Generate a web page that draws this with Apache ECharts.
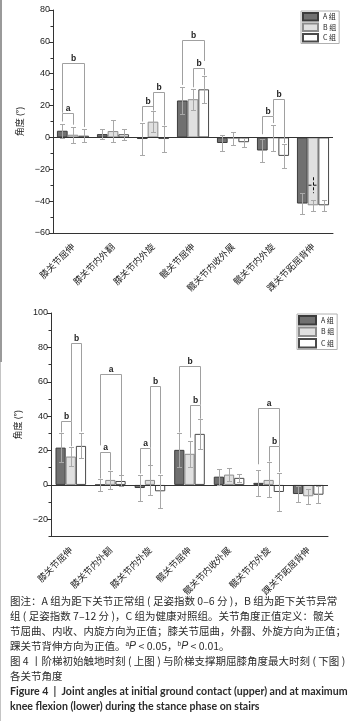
<!DOCTYPE html>
<html>
<head>
<meta charset="utf-8">
<title>图4 各关节角度</title>
<script src="https://cdn.jsdelivr.net/npm/echarts@6/dist/echarts.min.js"></script>
<style>
  html, body { margin: 0; padding: 0; background: #fff; }
  #chart { width: 357px; height: 721px; }
</style>
</head>
<body>
<div id="chart"></div>
<script>
  // 关节名称
  var categories = ['膝关节屈伸', '膝关节内外翻', '膝关节内外旋', '髋关节屈伸', '髋关节内收外展', '髋关节内外旋', '踝关节跖屈背伸'];
  var groupNames = ['A 组', 'B 组', 'C 组'];

  // 上图：阶梯初始触地时刻，均值与标准差
  var contactA = [4.2, 2.1, -1.0, 23.2, -3.5, -8.2, -41.5];
  var contactB = [1.7, 4.0, 9.9, 24.0, -0.8, -0.4, -42.6];
  var contactC = [1.1, 2.0, -1.0, 30.2, -3.0, -11.6, -42.6];
  var contactSdA = [4.3, 3.4, 10.0, 8.2, 5.2, 7.4, 6.8];
  var contactSdB = [5.0, 7.0, 6.4, 6.5, 3.9, 8.4, 3.4];
  var contactSdC = [4.1, 3.6, 8.0, 8.5, 2.7, 7.5, 3.4];
  var contactTicks = [-60, -40, -20, 0, 20, 40, 60, 80];

  // 下图：阶梯支撑期屈膝角度最大时刻
  var flexA = [21.7, 0.0, -1.8, 20.4, 4.8, 1.2, -5.3];
  var flexB = [16.5, 2.9, 2.9, 18.1, 6.0, 2.9, -6.6];
  var flexC = [22.7, 2.3, -3.7, 29.7, 4.1, -4.1, -5.7];
  var flexSdA = [8.6, 3.3, 7.3, 9.7, 4.6, 7.6, 4.8];
  var flexSdB = [5.7, 5.0, 8.5, 7.5, 3.9, 10.2, 4.4];
  var flexSdC = [7.3, 3.2, 9.7, 8.7, 2.5, 11.3, 5.0];
  var flexTicks = [-20, 0, 20, 40, 60, 80, 100];
  var flexMin = -30;

  // 显著性标注 [关节, 组1, 组2, 横线高度, 组1竖线下端, 组2竖线下端, 标记]
  var contactMarks = [
    [0, 0, 1, 15.5, 10, 8, 'a'],
    [0, 0, 2, 47, 15.5, 6.5, 'b'],
    [2, 0, 1, 19.6, 10, 17, 'b'],
    [2, 1, 2, 28.7, 17, 7.5, 'b'],
    [3, 0, 2, 61.4, 33, 48, 'b'],
    [3, 1, 2, 43.9, 31.5, 39, 'b'],
    [5, 0, 1, 13.7, 2, 9, 'b'],
    [5, 1, 2, 24.3, 13.5, -3.5, 'b']
  ];
  var flexMarks = [
    [0, 0, 1, 37.1, 30.5, 22.5, 'b'],
    [0, 1, 2, 82.6, 37, 31, 'b'],
    [1, 0, 1, 19.4, 3.7, 8.5, 'a'],
    [1, 0, 2, 64.7, 23, 5.5, 'a'],
    [2, 0, 1, 21.6, 6.6, 11.5, 'a'],
    [2, 1, 2, 57.5, 21.6, 6.5, 'b'],
    [3, 0, 2, 69.2, 30.5, 46.6, 'b'],
    [3, 1, 2, 46.6, 27.5, 38.5, 'b'],
    [5, 0, 2, 44.9, 12, 22.5, 'a'],
    [5, 1, 2, 22.5, 13.6, 7.5, 'b']
  ];
  // 上图踝关节 B 组柱内的虚线十字 [关节, 组, 上端, 下端, 横线]
  var contactDash = [[6, 1, -25, -35, -30]];

  var fills = ['#707070', '#e0e0e0', '#ffffff'];
  var borders = ['#3c3c3c', '#8c8c8c', '#4a4a4a'];
  var barW = [10.7, 10.2];

  var chart = echarts.init(document.getElementById('chart'), null, { renderer: 'canvas' });

  function minus(v) {
    return String(v).replace('-', '−');
  }

  function yMain(grid, min, max, ticks) {
    return {
      type: 'value', gridIndex: grid, min: min, max: max, interval: 10, position: 'left',
      name: '角度 (°)', nameLocation: 'middle', nameGap: 25, nameRotate: 90,
      nameTextStyle: { fontSize: 9, color: '#222', fontFamily: 'Noto Sans CJK SC' },
      axisLine: { show: true, lineStyle: { color: '#333', width: 1 } },
      axisTick: { show: true, length: 4, customValues: ticks, lineStyle: { color: '#333' } },
      axisLabel: { customValues: ticks, fontSize: 9, color: '#222', margin: 3, fontFamily: 'Liberation Sans', formatter: minus },
      splitLine: { show: false }
    };
  }

  // 次刻度，单独一根轴画在左侧
  function yMinor(grid, min, max) {
    return {
      type: 'value', gridIndex: grid, min: min, max: max, interval: 10, position: 'left', offset: 0,
      axisLine: { show: false },
      axisTick: { show: true, length: 2.5, lineStyle: { color: '#333' } },
      axisLabel: { show: false },
      splitLine: { show: false }
    };
  }

  function xAxis(grid) {
    return {
      type: 'category', gridIndex: grid, data: categories,
      axisLine: { onZero: false, lineStyle: { color: '#333', width: 1 } },
      axisTick: { alignWithLabel: true, inside: true, length: 4, lineStyle: { color: '#333' } },
      axisLabel: { interval: 0, rotate: 45, fontSize: 9, color: '#222', margin: 12, fontFamily: 'Noto Sans CJK SC' }
    };
  }

  function bars(xi, yi, values, bw) {
    return values.map(function (data, g) {
      var s = {
        name: groupNames[g], type: 'bar', xAxisIndex: xi, yAxisIndex: yi,
        data: data, barWidth: bw, barGap: '0%', z: 2,
        itemStyle: { color: fills[g], borderColor: borders[g], borderWidth: 1 }
      };
      if (g === 0) {
        s.markLine = {
          silent: true, symbol: 'none', animation: false,
          label: { show: false },
          lineStyle: { color: '#333', width: 1, type: 'solid' },
          data: [{ yAxis: 0 }]
        };
      }
      return s;
    });
  }

  function errors(xi, yi, means, sds, bw) {
    var data = [];
    means.forEach(function (m, g) {
      m.forEach(function (v, i) { data.push([i, g, v, sds[g][i]]); });
    });
    return {
      type: 'custom', xAxisIndex: xi, yAxisIndex: yi, z: 5, silent: true,
      data: data, encode: { x: 0, y: 2 },
      renderItem: function (params, api) {
        var c = api.value(0), m = api.value(2), sd = api.value(3);
        var x = Math.round(api.coord([c, m])[0] + (api.value(1) - 1) * bw) + 0.5;
        var top = Math.round(api.coord([c, m + sd])[1]) + 0.5;
        var bot = Math.round(api.coord([c, m - sd])[1]) + 0.5;
        var st = { stroke: '#a8a8a8', lineWidth: 1 };
        return {
          type: 'group', children: [
            { type: 'line', shape: { x1: x, y1: top, x2: x, y2: bot }, style: st },
            { type: 'line', shape: { x1: x - 2.5, y1: top, x2: x + 2.5, y2: top }, style: st },
            { type: 'line', shape: { x1: x - 2.5, y1: bot, x2: x + 2.5, y2: bot }, style: st }
          ]
        };
      }
    };
  }

  function brackets(xi, yi, marks, bw) {
    return {
      type: 'custom', xAxisIndex: xi, yAxisIndex: yi, z: 6, silent: true,
      data: marks.map(function (d) { return d.slice(0, 6); }),
      encode: { x: 0, y: 3 },
      renderItem: function (params, api) {
        var c = api.value(0);
        var cx = api.coord([c, 0])[0];
        var x1 = Math.round(cx + (api.value(1) - 1) * bw) + 0.5;
        var x2 = Math.round(cx + (api.value(2) - 1) * bw) + 0.5;
        var yl = Math.round(api.coord([c, api.value(3)])[1]) + 0.5;
        var y1 = api.coord([c, api.value(4)])[1];
        var y2 = api.coord([c, api.value(5)])[1];
        return {
          type: 'group', children: [
            { type: 'polyline', shape: { points: [[x1, y1], [x1, yl], [x2, yl], [x2, y2]] },
              style: { stroke: '#a0a0a0', lineWidth: 1, fill: null } },
            { type: 'text', x: (x1 + x2) / 2, y: yl - 5,
              style: { text: marks[params.dataIndex][6], fontSize: 8.5, fontWeight: 'bold',
                fontFamily: 'Liberation Sans', fill: '#222', align: 'center', verticalAlign: 'middle' } }
          ]
        };
      }
    };
  }

  function dashes(xi, yi, items, bw) {
    return {
      type: 'custom', xAxisIndex: xi, yAxisIndex: yi, z: 6, silent: true,
      data: items, encode: { x: 0, y: 2 },
      renderItem: function (params, api) {
        var c = api.value(0);
        var x = Math.round(api.coord([c, 0])[0] + (api.value(1) - 1) * bw) + 0.5;
        var st = { stroke: '#111', lineWidth: 1, lineDash: [3, 2] };
        var yh = api.coord([c, api.value(4)])[1];
        return {
          type: 'group', children: [
            { type: 'line', shape: { x1: x, y1: api.coord([c, api.value(2)])[1], x2: x, y2: api.coord([c, api.value(3)])[1] }, style: st },
            { type: 'line', shape: { x1: x - 5, y1: yh, x2: x + 5, y2: yh }, style: st }
          ]
        };
      }
    };
  }

  function legend(left, top, w, h) {
    return {
      data: groupNames, orient: 'vertical', left: left, top: top,
      itemWidth: w, itemHeight: h, itemGap: 1, icon: 'rect',
      padding: [1, 3, 1, 1], borderColor: '#b0b0b0', borderWidth: 1,
      selectedMode: false,
      textStyle: { fontSize: 7, color: '#222', fontFamily: 'Noto Sans CJK SC' }
    };
  }

  var caption = [
    ['图注：A 组为距下关节正常组 ( 足姿指数 0–6 分 )，B 组为距下关节异常', 601.5],
    ['组 ( 足姿指数 7–12 分 )，C 组为健康对照组。关节角度正值定义：髋关', 616.5],
    ['节屈曲、内收、内旋方向为正值；膝关节屈曲，外翻、外旋方向为正值；', 631.5],
    ['踝关节背伸方向为正值。{sup|a}{it|P} < 0.05，{sup|b}{it|P} < 0.01。', 646.5],
    ['图 4 丨阶梯初始触地时刻 ( 上图 ) 与阶梯支撑期屈膝角度最大时刻 ( 下图 )', 661.5],
    ['各关节角度', 676.5]
  ];
  var captionEn = [
    ['Figure 4  |  Joint angles at initial ground contact (upper) and at maximum', 691.5],
    ['knee flexion (lower) during the stance phase on stairs', 706.5]
  ];

  var graphics = [
    { type: 'rect', shape: { x: 0, y: 0, width: 2, height: 362 }, style: { fill: '#9a9a9a' } },
    { type: 'rect', shape: { x: 0, y: 362, width: 1, height: 359 }, style: { fill: '#c4c4c4' } }
  ];
  caption.forEach(function (c) {
    graphics.push({
      type: 'text', x: 10, y: c[1],
      style: {
        text: c[0], fontSize: 10.5, fontFamily: 'Noto Sans CJK SC', fill: '#2b2b2b', verticalAlign: 'middle',
        rich: {
          sup: { fontSize: 6.5, padding: [0, 0, 5, 0], fill: '#2b2b2b' },
          it: { fontSize: 10.5, fontStyle: 'italic', fill: '#2b2b2b' }
        }
      }
    });
  });
  captionEn.forEach(function (c) {
    graphics.push({
      type: 'text', x: 10, y: c[1],
      style: { text: c[0], fontSize: 10.6, fontWeight: 'bold', fontFamily: 'Lato', fill: '#2b2b2b', verticalAlign: 'middle' }
    });
  });

  var option = {
    animation: false,
    backgroundColor: '#fff',
    grid: [
      { left: 53, top: 10, width: 280, height: 223 },
      { left: 51, top: 313, width: 277, height: 223.5 }
    ],
    xAxis: [xAxis(0), xAxis(1)],
    yAxis: [
      yMain(0, contactTicks[0], contactTicks[contactTicks.length - 1], contactTicks),
      yMinor(0, contactTicks[0], contactTicks[contactTicks.length - 1]),
      yMain(1, flexMin, flexTicks[flexTicks.length - 1], flexTicks),
      yMinor(1, flexMin, flexTicks[flexTicks.length - 1])
    ],
    legend: [legend(301, 11, 15, 7.5), legend(297, 314, 17, 8.5)],
    series: [].concat(
      bars(0, 0, [contactA, contactB, contactC], barW[0]),
      [errors(0, 0, [contactA, contactB, contactC], [contactSdA, contactSdB, contactSdC], barW[0]),
       brackets(0, 0, contactMarks, barW[0]),
       dashes(0, 0, contactDash, barW[0])],
      bars(1, 2, [flexA, flexB, flexC], barW[1]),
      [errors(1, 2, [flexA, flexB, flexC], [flexSdA, flexSdB, flexSdC], barW[1]),
       brackets(1, 2, flexMarks, barW[1])]
    ),
    graphic: graphics
  };

  chart.setOption(option);
</script>
</body>
</html>
